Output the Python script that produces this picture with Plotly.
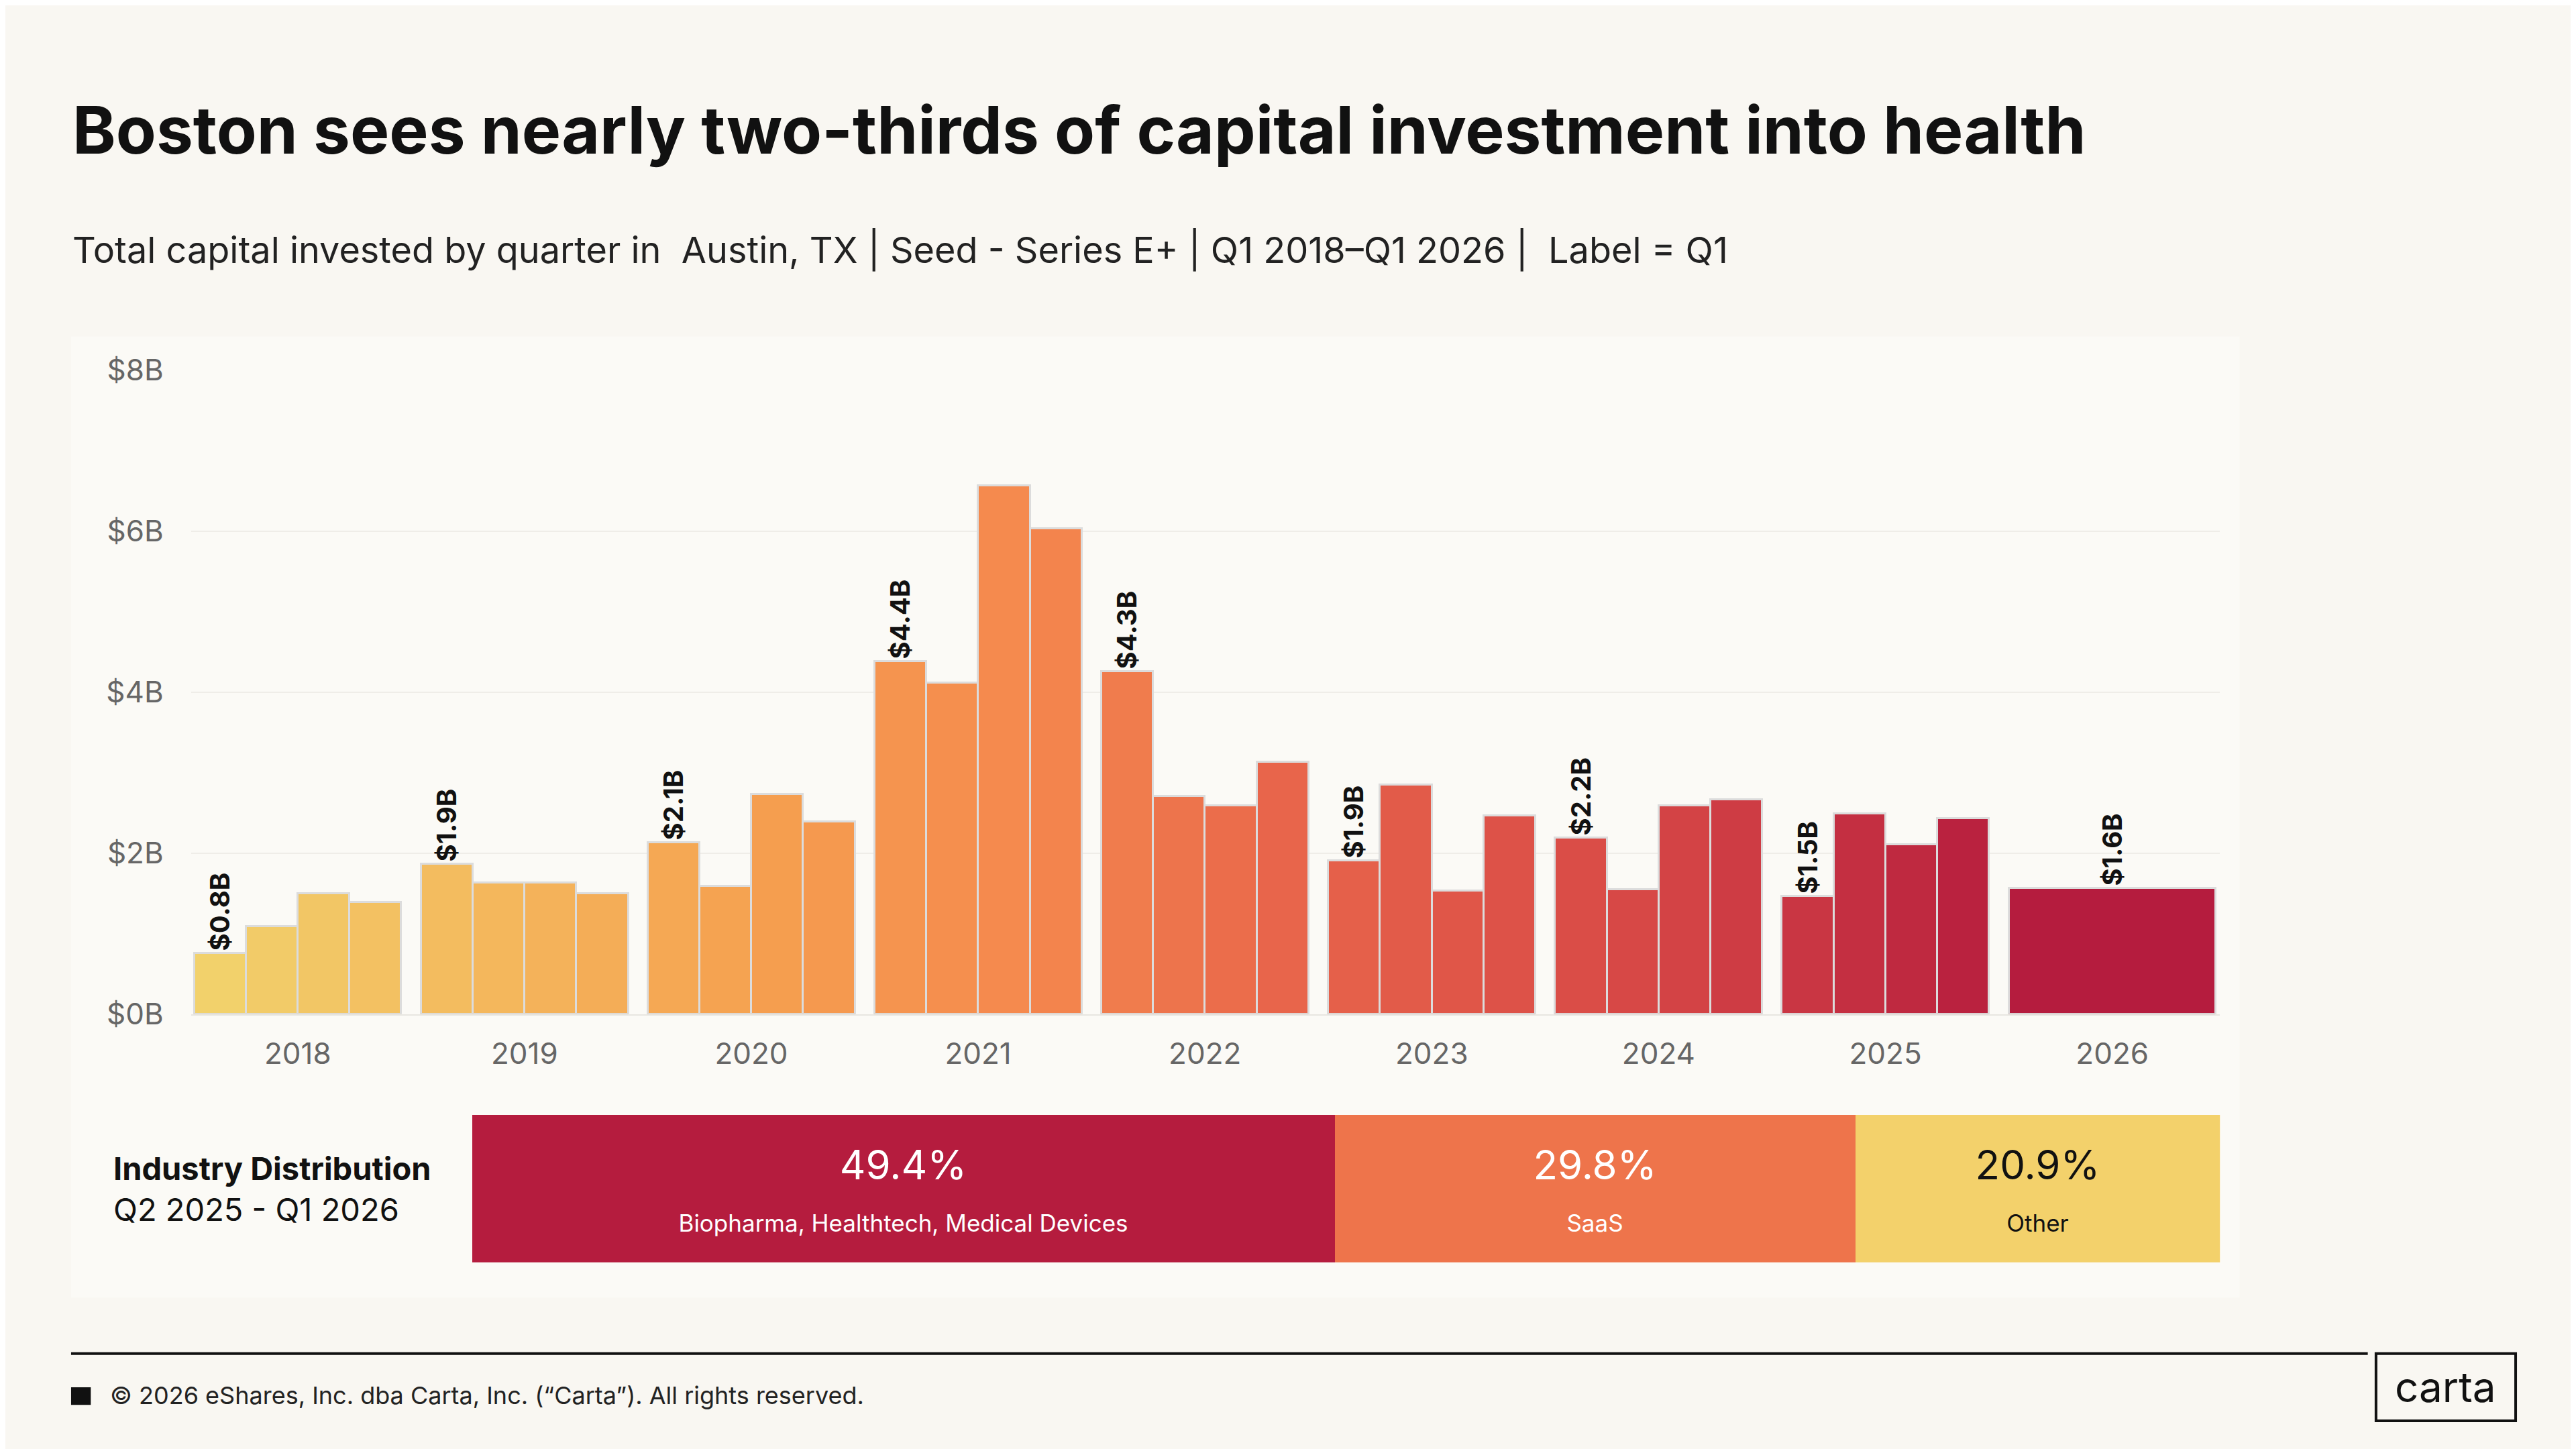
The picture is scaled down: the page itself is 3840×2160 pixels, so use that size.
import plotly.graph_objects as go

years = ["2018","2019","2020","2021","2022","2023","2024","2025","2026"]
q_values = [
    [0.76, 1.09, 1.50, 1.39],
    [1.87, 1.63, 1.63, 1.50],
    [2.13, 1.59, 2.73, 2.39],
    [4.38, 4.12, 6.57, 6.03],
    [4.26, 2.71, 2.59, 3.13],
    [1.91, 2.85, 1.53, 2.47],
    [2.19, 1.55, 2.59, 2.67],
    [1.47, 2.49, 2.11, 2.43],
    [1.57],
]
dist_pct = [49.4, 29.8, 20.9]
dist_names = ["Biopharma, Healthtech, Medical Devices", "SaaS", "Other"]
dist_colors = ["#B51C3E", "#EE744B", "#F3D16B"]
ytick_vals = [0, 2, 4, 6, 8]
ytick_text = ["$0B", "$2B", "$4B", "$6B", "$8B"]

W, H = 3840, 2160
def px(x): return x / 1568.0
def py(y): return 1 - y / 882.0

stops = [(0, (242, 209, 107)), (0.3, (246, 160, 80)), (0.45, (245, 137, 78)),
         (0.6, (232, 100, 75)), (0.8, (214, 70, 70)), (1.0, (181, 28, 62))]
def grad(t):
    for (a, ca), (b, cb) in zip(stops[:-1], stops[1:]):
        if a <= t <= b:
            f = (t - a) / (b - a)
            return "rgb(%d,%d,%d)" % tuple(int(ca[k] + f * (cb[k] - ca[k])) for k in range(3))
    return "rgb(181,28,62)"

gap = 0.38
xs, ys, ws, cols, texts = [], [], [], [], []
n_total = sum(len(v) for v in q_values)
idx = 0
for i, vals in enumerate(q_values):
    base = i * (4 + gap)
    if len(vals) == 1:
        xs.append(base + 1.5); ws.append(4)
    for q, v in enumerate(vals):
        if len(vals) > 1:
            xs.append(base + q); ws.append(1)
        ys.append(v)
        cols.append(grad(idx / (n_total - 1)))
        texts.append(f"${v:.1f}B" if q == 0 else "")
        idx += 1
tick_x = [i * (4 + gap) + 1.5 for i in range(len(years))]

fig = go.Figure()
fig.add_trace(go.Bar(
    x=xs, y=ys, width=ws, marker=dict(color=cols, line=dict(color="#DCDCDC", width=2.5)),
    text=texts, textposition="outside", textangle=-90, cliponaxis=False, constraintext="none",
    textfont=dict(family="Inter", size=40, color="#111111", weight="bold"),
    hoverinfo="skip", showlegend=False))

for p, n, c in zip(dist_pct, dist_names, dist_colors):
    tc = "#111111" if c == "#F3D16B" else "white"
    fig.add_trace(go.Bar(
        x=[p], y=["d"], orientation="h", xaxis="x2", yaxis="y2",
        marker=dict(color=c, line=dict(width=0)),
        text=[f"{p:.1f}%<br><span style='font-size:35px'>{n}</span>"],
        textposition="inside", insidetextanchor="middle", constraintext="none",
        textfont=dict(family="Inter", size=60, color=tc),
        showlegend=False, hoverinfo="skip"))

fig.update_layout(
    width=W, height=H, margin=dict(l=0, r=0, t=0, b=0),
    paper_bgcolor="#F9F7F2", plot_bgcolor="rgba(0,0,0,0)",
    barmode="stack", bargap=0,
    font=dict(family="Inter", color="#333333"),
    xaxis=dict(domain=[px(113), px(1348)], range=[-0.56, 38.62],
               tickvals=tick_x, ticktext=years, showgrid=False, zeroline=False,
               showline=True, linecolor="#E8E6E1", linewidth=2,
               tickfont=dict(size=44, color="#666666"), ticks="", ticklabelstandoff=20),
    yaxis=dict(domain=[py(618), py(216)], range=[0, 8], tickvals=ytick_vals, ticktext=ytick_text,
               showgrid=True, gridcolor="#EFEDE8", gridwidth=2, zeroline=False,
               tickfont=dict(size=44, color="#666666"), ticklabelstandoff=40),
    xaxis2=dict(domain=[px(284), px(1348)], range=[0, sum(dist_pct)], visible=False, anchor="y2"),
    yaxis2=dict(domain=[py(773), py(681)], visible=False, anchor="x2"),
)

shapes = [
    dict(type="rect", xref="paper", yref="paper", x0=px(40), x1=px(1360), y0=py(795), y1=py(195),
         fillcolor="#FBFAF6", line=dict(width=0), layer="below"),
    dict(type="line", xref="paper", yref="paper", x0=px(40), x1=px(1438), y0=py(830), y1=py(830),
         line=dict(color="#111111", width=4)),
    dict(type="rect", xref="paper", yref="paper", x0=px(1443), x1=px(1528), y0=py(872), y1=py(830),
         line=dict(color="#111111", width=4), fillcolor="rgba(0,0,0,0)"),
    dict(type="rect", xref="paper", yref="paper", x0=px(40), x1=px(52), y0=py(862), y1=py(851),
         fillcolor="#111111", line=dict(width=0)),
]
fig.update_layout(shapes=shapes)

ann = [
    dict(text="<b>Boston sees nearly two-thirds of capital investment into health</b>", x=px(40), y=py(66),
         font=dict(size=98, color="#111111")),
    dict(text="Total capital invested by quarter in  Austin, TX | Seed - Series E+ | Q1 2018–Q1 2026 |  Label = Q1",
         x=px(40), y=py(141), font=dict(size=54, color="#222222")),
    dict(text="<b>Industry Distribution</b><br>Q2 2025 - Q1 2026", x=px(65), y=py(727),
         font=dict(size=47, color="#111111"), align="left"),
    dict(text="© 2026 eShares, Inc. dba Carta, Inc. (“Carta”). All rights reserved.", x=px(63), y=py(856),
         font=dict(size=36, color="#222222")),
    dict(text="carta", x=px(1485.5), y=py(851), xanchor="center", font=dict(size=62, color="#111111")),
]
for a in ann:
    a.setdefault("xanchor", "left")
    a.update(xref="paper", yref="paper", yanchor="middle", showarrow=False)
fig.update_layout(annotations=ann)

fig.write_html("out.html")
